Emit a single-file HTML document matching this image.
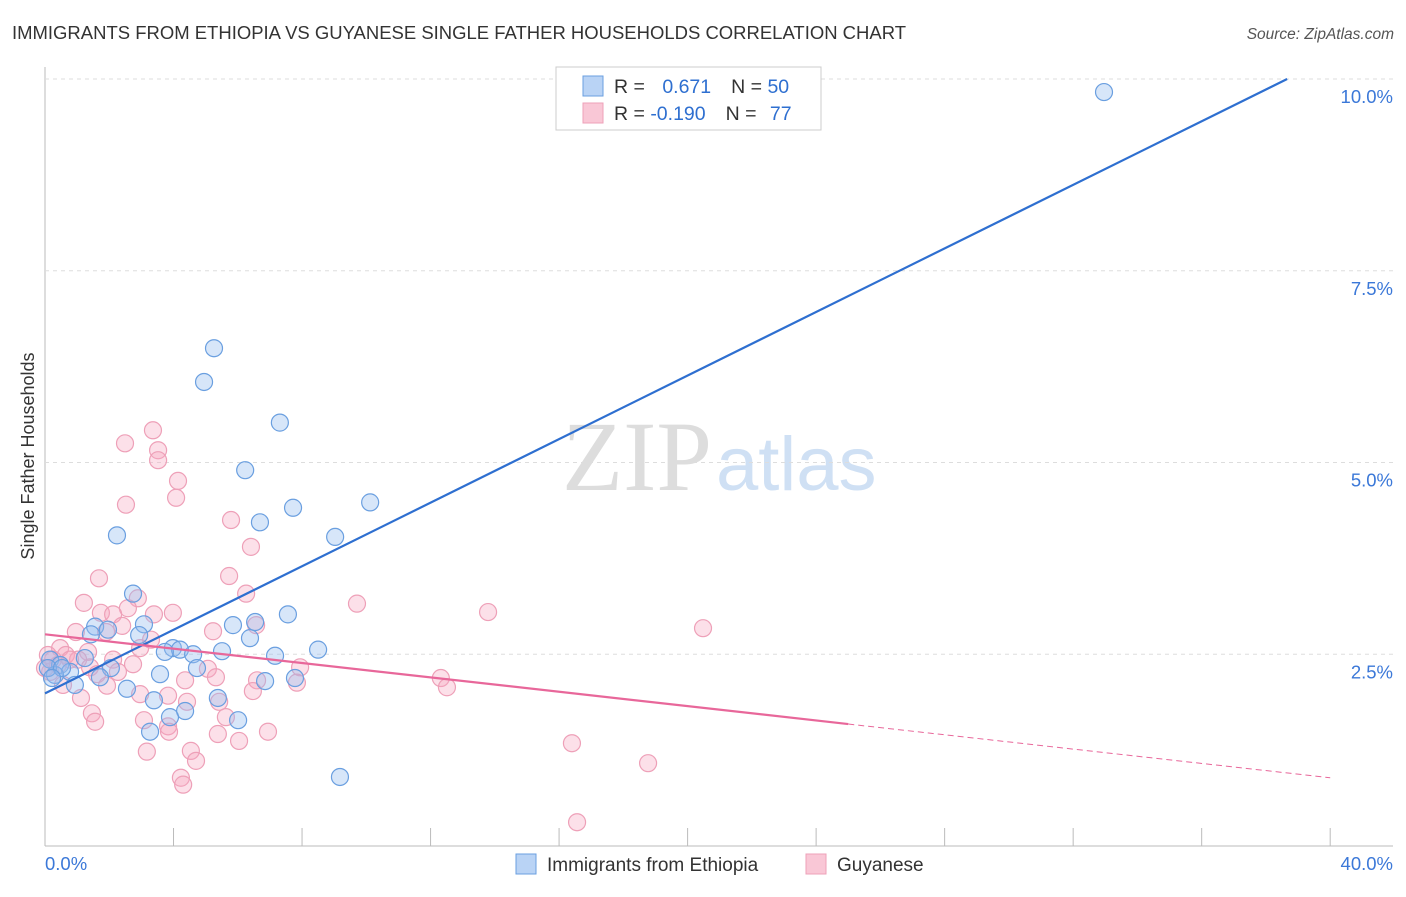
<!DOCTYPE html>
<html><head><meta charset="utf-8"><style>
body{margin:0;background:#fff;font-family:"Liberation Sans",sans-serif}
</style></head><body>
<svg id="c" width="1406" height="892" xmlns="http://www.w3.org/2000/svg">
<text x="12" y="39" font-size="18.5" fill="#333" textLength="894" lengthAdjust="spacingAndGlyphs">IMMIGRANTS FROM ETHIOPIA VS GUYANESE SINGLE FATHER HOUSEHOLDS CORRELATION CHART</text>
<text x="1394" y="39" font-size="15.5" fill="#555" font-style="italic" text-anchor="end">Source: ZipAtlas.com</text>
<text x="712" y="490" font-size="100" fill="#ddd" text-anchor="end" font-family="Liberation Serif,serif">ZIP</text>
<text x="716" y="490" font-size="76" fill="#cfe0f4">atlas</text>
<text transform="translate(34,456) rotate(-90)" font-size="18" fill="#333" text-anchor="middle">Single Father Households</text>
<g id="grid"></g><g id="marks"></g>
<g>
<rect x="556" y="67" width="265" height="63" fill="#fff" stroke="#ccc"/>
<rect x="583" y="76" width="20" height="20" fill="#b9d3f5" stroke="#6a9fe0"/>
<rect x="583" y="103" width="20" height="20" fill="#f9c7d6" stroke="#eea0b8"/>
<text x="614" y="93" font-size="19.5" fill="#333">R = <tspan fill="#2e6fd0" dx="12">0.671</tspan><tspan dx="20" fill="#333">N = </tspan><tspan fill="#2e6fd0">50</tspan></text>
<text x="614" y="120" font-size="19.5" fill="#333">R = <tspan fill="#2e6fd0">-0.190</tspan><tspan dx="20" fill="#333">N = </tspan><tspan fill="#2e6fd0" dx="8">77</tspan></text>
</g>
<g>
<rect x="516" y="854" width="20" height="20" fill="#b9d3f5" stroke="#6a9fe0"/>
<text x="547" y="871" font-size="19" fill="#333">Immigrants from Ethiopia</text>
<rect x="806" y="854" width="20" height="20" fill="#f9c7d6" stroke="#eea0b8"/>
<text x="837" y="871" font-size="19" fill="#333">Guyanese</text>
</g>
</svg>
<script>
const yTicks=[2.5,5.0,7.5,10.0];
const xTickLabels=["0.0%","40.0%"];
const blueX=[32.96,5.26,4.95,7.31,6.23,10.12,7.72,6.69,2.24,9.03,2.74,7.56,6.54,3.08,5.85,1.56,1.96,1.43,2.93,6.38,3.98,4.20,3.73,5.51,4.61,8.50,7.16,0.16,1.24,0.47,4.73,2.05,3.58,7.78,6.85,0.78,0.31,1.71,0.93,2.55,5.38,3.39,4.36,3.89,6.01,3.27,9.18,0.09,0.53,0.22];
const blueY=[9.83,6.49,6.05,5.52,4.90,4.48,4.41,4.22,4.05,4.03,3.29,3.02,2.92,2.89,2.88,2.86,2.82,2.76,2.75,2.71,2.58,2.56,2.53,2.54,2.50,2.56,2.48,2.43,2.45,2.36,2.32,2.32,2.24,2.19,2.15,2.27,2.23,2.20,2.10,2.05,1.93,1.90,1.76,1.68,1.64,1.49,0.90,2.32,2.32,2.19];
const pinkX=[3.36,2.49,3.52,3.52,4.14,4.08,2.52,5.79,6.41,1.68,5.73,6.26,9.71,1.21,2.89,13.79,1.74,2.58,3.39,3.98,2.12,2.40,20.48,6.57,0.96,5.23,1.90,3.30,0.47,2.96,1.34,0.65,2.12,1.03,2.74,1.40,7.94,5.07,0.16,2.27,1.62,12.32,4.36,5.32,7.84,0.56,1.93,12.51,6.60,6.47,2.96,3.83,1.12,4.42,5.42,1.46,5.63,3.08,1.56,3.83,3.86,6.94,5.38,6.04,16.40,3.17,4.54,4.70,18.77,4.23,4.30,16.56,0.09,0.40,0.78,0.00,0.25];
const pinkY=[5.42,5.25,5.16,5.03,4.76,4.54,4.45,4.25,3.90,3.49,3.52,3.29,3.16,3.17,3.23,3.05,3.04,3.10,3.02,3.04,3.02,2.87,2.84,2.88,2.79,2.80,2.79,2.69,2.58,2.58,2.53,2.49,2.43,2.43,2.37,2.33,2.33,2.31,2.27,2.27,2.24,2.19,2.16,2.20,2.13,2.10,2.09,2.07,2.16,2.02,1.98,1.96,1.93,1.88,1.88,1.73,1.68,1.64,1.62,1.56,1.49,1.49,1.46,1.37,1.34,1.23,1.24,1.11,1.08,0.89,0.80,0.31,2.49,2.36,2.43,2.32,2.43];
const blueLine=[[0,1.99],[38.66,10.0]];
const pinkLine=[[0,2.76],[25,1.59]];
const pinkDash=[[25,1.59],[40,0.89]];
const X=v=>45+v*32.13, Y=v=>846-v*76.7;
const NS="http://www.w3.org/2000/svg";
const grid=document.getElementById('grid'), marks=document.getElementById('marks');
function mk(p,tag,a){const e=document.createElementNS(NS,tag);for(const k in a)e.setAttribute(k,a[k]);p.appendChild(e);return e;}
const ax=mk(grid,'line',{x1:45,y1:67,x2:45,y2:846,stroke:'#bbb'});


const bx=mk(grid,'line',{x1:45,y1:846,x2:1393,y2:846,stroke:'#bbb'});


for(let i=0;i<=10;i++){const t=mk(grid,'line',{x1:X(i*4),y1:828,x2:X(i*4),y2:846,stroke:'#bbb'});

}
yTicks.forEach(v=>{const g=mk(grid,'line',{x1:45,y1:Y(v),x2:1393,y2:Y(v),stroke:'#ddd','stroke-dasharray':'4,4'});


const t=mk(grid,'text',{x:1393,y:Y(v)+24,'font-size':18.5,fill:'#3b78d8','text-anchor':'end'});t.textContent=v.toFixed(1)+'%';

});
xTickLabels.forEach((s,i)=>{const t=mk(grid,'text',{x:i?1393:45,y:870,'font-size':18.5,fill:'#3b78d8','text-anchor':i?'end':'start'});t.textContent=s;

});
pinkX.forEach((x,i)=>{const c=mk(marks,'circle',{cx:X(x),cy:Y(pinkY[i]),r:8.5,fill:'rgba(245,165,192,0.35)',stroke:'#eea0b8','stroke-width':1.2});

});
blueX.forEach((x,i)=>{const c=mk(marks,'circle',{cx:X(x),cy:Y(blueY[i]),r:8.5,fill:'rgba(150,190,240,0.38)',stroke:'#6a9fe0','stroke-width':1.2});

});
const l1=mk(marks,'line',{x1:X(blueLine[0][0]),y1:Y(blueLine[0][1]),x2:X(blueLine[1][0]),y2:Y(blueLine[1][1]),stroke:'#2e6fd0','stroke-width':2.2});


const l2=mk(marks,'line',{x1:X(pinkLine[0][0]),y1:Y(pinkLine[0][1]),x2:X(pinkLine[1][0]),y2:Y(pinkLine[1][1]),stroke:'#e8679a','stroke-width':2.2});


const l3=mk(marks,'line',{x1:X(pinkDash[0][0]),y1:Y(pinkDash[0][1]),x2:X(pinkDash[1][0]),y2:Y(pinkDash[1][1]),stroke:'#e8679a','stroke-width':1,'stroke-dasharray':'6,4'});


</script>
</body></html>
